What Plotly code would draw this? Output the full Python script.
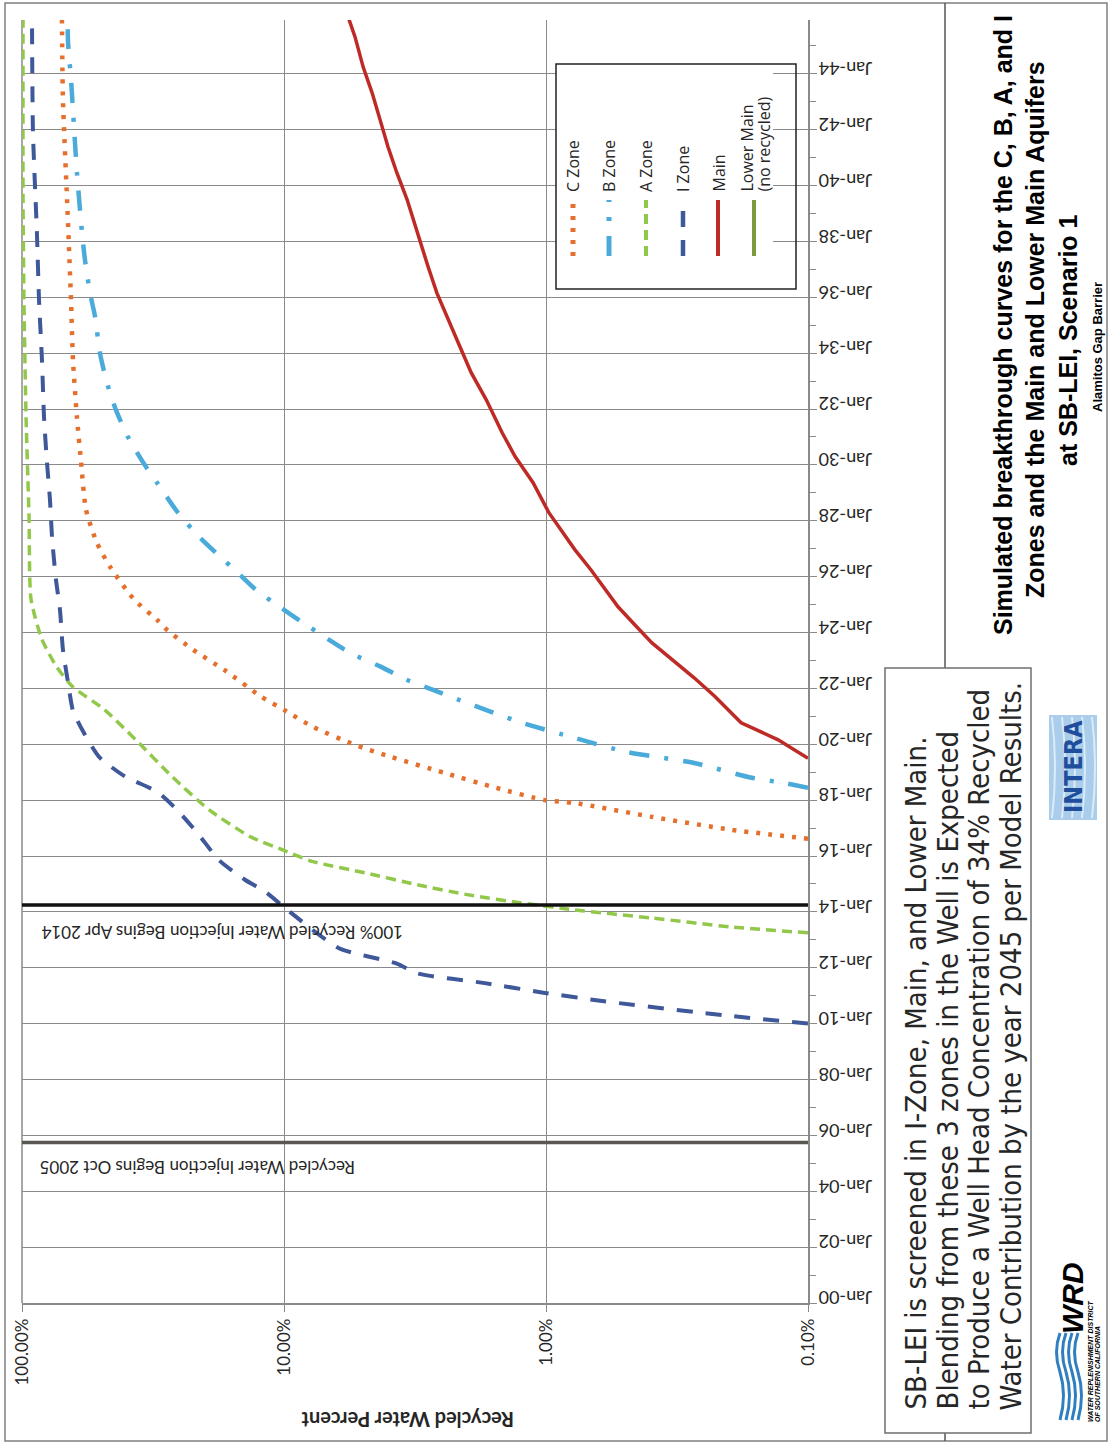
import plotly.graph_objects as go
import pandas as pd

W, H = 1109, 1443

# ---------------- data (decimal year, recycled water percent) ----------------
c_zone_year = [2016.62, 2016.94, 2017.4, 2017.9, 2018.0, 2018.44, 2018.98, 2019.55, 2019.98,
               2020.62, 2021.23, 2021.7, 2022.66, 2023.38, 2024.1, 2024.45, 2025.2, 2026.35,
               2027.2, 2028.4, 2030.1, 2031.7, 2033.75, 2035.9, 2039.5, 2043.1, 2045.95]
c_zone_pct = [0.10, 0.197, 0.394, 0.78, 1.01, 1.55, 2.45, 3.91, 5.36,
              7.75, 10.0, 12.2, 16.9, 22.2, 28.0, 30.5, 37.5, 46.1,
              51.7, 57.0, 59.5, 61.7, 63.9, 65.0, 67.3, 69.8, 70.4]

b_zone_year = [2018.44, 2018.62, 2018.8, 2019.33, 2019.73, 2020.23, 2020.77, 2021.16, 2021.59,
               2021.95, 2022.3, 2022.77, 2023.27, 2023.74, 2024.35, 2024.92, 2025.53, 2026.14,
               2026.71, 2027.43, 2028.29, 2029.36, 2030.0, 2031.0, 2031.97, 2032.94, 2034.0,
               2035.3, 2036.16, 2037.34, 2038.3, 2040.46, 2042.7, 2043.8, 2045.1, 2045.95]
b_zone_pct = [0.10, 0.1245, 0.164, 0.272, 0.495, 0.78, 1.24, 1.62, 2.15,
              2.70, 3.39, 4.26, 5.60, 6.73, 8.46, 10.4, 12.8, 15.0,
              17.5, 21.1, 25.4, 30.5, 34.0, 39.4, 43.8, 47.4, 50.4,
              52.6, 55.0, 57.5, 59.0, 61.7, 63.9, 65.0, 66.7, 67.0]

a_zone_year = [2013.25, 2013.46, 2013.78, 2014.07, 2014.32, 2014.6, 2014.97, 2015.4, 2015.8,
               2016.2, 2016.7, 2017.65, 2018.85, 2020.15, 2021.25, 2022.05, 2022.75, 2023.75,
               2025.2, 2028.15, 2031.7, 2035.9, 2039.5, 2045.95]
a_zone_pct = [0.10, 0.197, 0.394, 0.78, 1.24, 1.95, 3.10, 4.91, 7.75,
              10.0, 13.5, 19.3, 26.8, 36.7, 48.6, 63.9, 73.5, 83.9,
              92.4, 94.0, 96.5, 98.3, 99.1, 99.1]

i_zone_year = [2010.0, 2010.3, 2010.8, 2011.1, 2011.45, 2011.8, 2012.15, 2012.7, 2014.0,
               2014.7, 2015.15, 2015.85, 2016.8, 2017.65, 2018.3, 2018.85, 2019.55, 2020.4,
               2021.2, 2022.2, 2023.4, 2024.8, 2025.9, 2027.4, 2028.75, 2030.1, 2031.7,
               2033.75, 2035.9, 2038.3, 2041.9, 2045.95]
i_zone_pct = [0.10, 0.21, 0.60, 1.01, 1.71, 3.10, 3.71, 6.17, 9.5,
              11.7, 14.1, 17.7, 21.3, 25.6, 30.5, 40.5, 50.8, 58.0,
              63.9, 66.7, 69.8, 71.6, 74.2, 76.8, 78.2, 80.3, 82.4,
              83.9, 86.1, 87.7, 90.8, 91.6]

main_year = [2019.5, 2020.16, 2020.77, 2021.7, 2022.38, 2023.02, 2023.63, 2024.2, 2024.92,
             2026.24, 2026.96, 2028.29, 2029.36, 2030.29, 2031.15, 2032.33, 2033.3, 2034.23,
             2035.3, 2036.16, 2037.1, 2038.3, 2039.5, 2040.46, 2041.39, 2042.36, 2043.32,
             2044.25, 2045.33, 2045.95]
main_pct = [0.10, 0.130, 0.180, 0.226, 0.272, 0.327, 0.394, 0.450, 0.531,
            0.673, 0.775, 0.975, 1.12, 1.31, 1.47, 1.69, 1.93, 2.13,
            2.39, 2.61, 2.82, 3.10, 3.39, 3.71, 4.01, 4.30, 4.61,
            4.99, 5.36, 5.65]

lower_main_year = []   # no recycled water reaches the Lower Main
lower_main_pct = []

series_names = ["C Zone", "B Zone", "A Zone", "I Zone", "Main", "Lower Main\n(no recycled)"]

pct_tick_vals = [100, 10, 1, 0.1]
pct_tick_text = ["100.00%", "10.00%", "1.00%", "0.10%"]

event_dates = ["2005-10-01", "2014-04-01"]
event_labels = ["Recycled Water Injection Begins Oct 2005",
                "100% Recycled Water Injection Begins Apr 2014"]

time_start, time_end = "2000-01-01", "2045-12-05"

title_lines = ["Simulated breakthrough curves for the C, B, A, and I",
               "Zones and the Main and Lower Main Aquifers",
               "at SB-LEI, Scenario 1"]
subtitle = "Alamitos Gap Barrier"
note_lines = ["SB-LEI is screened in I-Zone, Main, and Lower Main.",
              "Blending from these 3 zones in the Well is Expected",
              "to Produce a Well Head Concentration of 34% Recycled",
              "Water Contribution by the year 2045 per Model Results."]

# ---------------- helpers ----------------
def X(p):
    return p / W

def Y(p):
    return 1 - p / H

def dec_to_date(v):
    yr = int(v)
    start = pd.Timestamp(yr, 1, 1)
    end = pd.Timestamp(yr + 1, 1, 1)
    return (start + (end - start) * (v - yr)).strftime("%Y-%m-%d %H:%M:%S")

GRID = "#8a8a8a"
TXT = "#262626"
CAL = "Lato, Carlito, sans-serif"

styles = [
    dict(color="#E5702D", width=4.5, dash="4px,8px"),
    dict(color="#4AABDB", width=4.5, dash="20px,15px,4px,15px"),
    dict(color="#92C84A", width=3.5, dash="10px,6px"),
    dict(color="#3E5899", width=4, dash="16px,13px"),
    dict(color="#BE2A25", width=3.5, dash="solid"),
    dict(color="#7A9A3C", width=3.5, dash="solid"),
]
data_sets = [(c_zone_year, c_zone_pct), (b_zone_year, b_zone_pct), (a_zone_year, a_zone_pct),
             (i_zone_year, i_zone_pct), (main_year, main_pct), (lower_main_year, lower_main_pct)]

fig = go.Figure()
for name, (yrs, pcts), st in zip(series_names, data_sets, styles):
    shape = "linear" if name == "Main" else "spline"
    fig.add_trace(go.Scatter(
        x=pcts, y=[dec_to_date(v) for v in yrs], mode="lines", name=name,
        line=dict(color=st["color"], width=st["width"], dash=st["dash"], shape=shape,
                  smoothing=0.6 if shape == "spline" else None),
        showlegend=False, hoverinfo="skip"))

fig.update_layout(
    width=W, height=H, margin=dict(l=0, r=0, t=0, b=0, pad=0),
    paper_bgcolor="white", plot_bgcolor="white", template="none",
    xaxis=dict(type="log", range=[2, -1], domain=[X(22), X(808)],
               tickvals=pct_tick_vals, ticktext=pct_tick_text, tickangle=-90,
               ticks="outside", ticklen=7, tickcolor=GRID, tickwidth=1.3,
               showgrid=True, gridcolor=GRID, gridwidth=1.3,
               showline=True, linecolor=GRID, linewidth=1.5, zeroline=False,
               tickfont=dict(family=CAL, size=17, color=TXT),
               automargin=False),
    yaxis=dict(type="date", range=[time_start, time_end], domain=[Y(1303), Y(20)],
               side="right", tick0="2000-01-01", dtick="M24", tickformat="%b-%y",
               tickangle=180, ticks="outside", ticklen=7, tickcolor=GRID, tickwidth=1.3,
               ticklabelstandoff=52,
               showgrid=True, gridcolor=GRID, gridwidth=1.3,
               showline=True, linecolor=GRID, linewidth=1.5, zeroline=False,
               minor=dict(dtick="M12", tick0="2001-01-01", ticks="outside", ticklen=6,
                          tickcolor=GRID, tickwidth=1.3, showgrid=False),
               tickfont=dict(family=CAL, size=18, color=TXT),
               automargin=False),
)

shapes = []
annotations = []

def ann(**kw):
    d = dict(showarrow=False, xanchor="center", yanchor="middle")
    d.update(kw)
    annotations.append(d)

# outer frame & panel separator
shapes.append(dict(type="rect", xref="paper", yref="paper", x0=X(5), x1=X(1107), y0=Y(1441), y1=Y(3),
                   line=dict(color="#7f7f7f", width=1.5), layer="below"))
shapes.append(dict(type="line", xref="paper", yref="paper", x0=X(945), x1=X(945), y0=Y(1441), y1=Y(3),
                   line=dict(color="#555555", width=1.5), layer="above"))
# 100% edge of the plot
shapes.append(dict(type="line", xref="paper", yref="paper", x0=X(22), x1=X(22), y0=Y(1303), y1=Y(20),
                   line=dict(color=GRID, width=1.5), layer="between"))

# event lines
event_colors = ["#5a5652", "#111111"]
event_label_x = [198, 222]
event_label_shift = [-25, -27]
for d, lab, col, lx, ys in zip(event_dates, event_labels, event_colors, event_label_x, event_label_shift):
    shapes.append(dict(type="line", xref="paper", yref="y", x0=X(22), x1=X(808), y0=d, y1=d,
                       line=dict(color=col, width=3.5), layer="above"))
    ann(xref="paper", yref="y", x=X(lx), y=d, yshift=ys, text=lab, textangle=180,
        font=dict(family=CAL, size=17, color=TXT))

# axis title (upside down)
ann(xref="paper", yref="paper", x=X(408), y=Y(1420), text="Recycled Water Percent", textangle=180,
    font=dict(family=CAL, size=20, color=TXT, weight="bold"))

# legend
shapes.append(dict(type="rect", xref="paper", yref="paper", x0=X(556), x1=X(773), y0=Y(289), y1=Y(64),
                   fillcolor="white", line=dict(width=0), layer="above"))
shapes.append(dict(type="rect", xref="paper", yref="paper", x0=X(556), x1=X(796), y0=Y(289), y1=Y(64),
                   line=dict(color="#222222", width=1.5), layer="above"))
leg_x = [573, 609, 646, 683, 718, 754]
for name, st, lx in zip(series_names, styles, leg_x):
    shapes.append(dict(type="line", xref="paper", yref="paper", x0=X(lx), x1=X(lx), y0=Y(256), y1=Y(200),
                       line=dict(color=st["color"], width=st["width"] + 0.5, dash=st["dash"]), layer="above"))
    parts = name.split("\n")
    offs = [0] if len(parts) == 1 else [-8, 9]
    for part, o in zip(parts, offs):
        ann(xref="paper", yref="paper", x=X(lx + o), y=Y(194), text=part, textangle=-90,
            yanchor="bottom", font=dict(family="Open Sans, sans-serif", size=16, color=TXT))

# right panel title
for txt, xx, yc in zip(title_lines, [1003, 1035, 1068], [325, 330, 340]):
    ann(xref="paper", yref="paper", x=X(xx), y=Y(yc), text=txt, textangle=-90,
        font=dict(family="Liberation Sans, Arial, sans-serif", size=25, color="black", weight="bold"))
ann(xref="paper", yref="paper", x=X(1097), y=Y(347), text=subtitle, textangle=-90,
    font=dict(family="Liberation Sans, Arial, sans-serif", size=13, color="black", weight="bold"))

# note box
shapes.append(dict(type="rect", xref="paper", yref="paper", x0=X(885), x1=X(1031), y0=Y(1433), y1=Y(668),
                   fillcolor="white", line=dict(color="#6f6f6f", width=1.5), layer="above"))
for txt, xx in zip(note_lines, [915, 947, 978, 1010]):
    ann(xref="paper", yref="paper", x=X(xx), y=Y(1412), text=txt, textangle=-90, yanchor="bottom",
        font=dict(family="Liberation Sans Narrow, DejaVu Sans Condensed, sans-serif", size=29, color=TXT))

# INTERA logo (approximation)
shapes.append(dict(type="rect", xref="paper", yref="paper", x0=X(1049), x1=X(1097), y0=Y(820), y1=Y(715),
                   fillcolor="#a9cdea", line=dict(width=0), layer="above"))
for k in range(5):
    xx = 1052 + k * 10
    shapes.append(dict(type="path", xref="paper", yref="paper",
                       path=f"M {X(xx)},{Y(818)} Q {X(xx + 6)},{Y(767)} {X(xx)},{Y(717)}",
                       line=dict(color="#dcebf7", width=2), layer="above"))
ann(xref="paper", yref="paper", x=X(1073), y=Y(767), text="<b>INTERA</b>", textangle=-90,
    font=dict(family="DejaVu Sans Condensed, sans-serif", size=25, color="#1f4f9c"))

# WRD logo (approximation)
for k in range(4):
    xx = 1060 + k * 6
    shapes.append(dict(type="path", xref="paper", yref="paper",
                       path=f"M {X(xx)},{Y(1420)} Q {X(xx + 7)},{Y(1395)} {X(xx)},{Y(1372)} "
                            f"Q {X(xx - 7)},{Y(1352)} {X(xx)},{Y(1333)}",
                       line=dict(color="#2f7fc0", width=3), layer="above"))
ann(xref="paper", yref="paper", x=X(1072), y=Y(1298), text="<b><i>WRD</i></b>", textangle=-90,
    font=dict(family="Liberation Sans, Arial, sans-serif", size=30, color="black"))
ann(xref="paper", yref="paper", x=X(1090), y=Y(1424), text="<b><i>WATER REPLENISHMENT DISTRICT</i></b>",
    textangle=-90, yanchor="bottom",
    font=dict(family="Liberation Sans Narrow, sans-serif", size=7, color="black"))
ann(xref="paper", yref="paper", x=X(1097), y=Y(1424), text="<b><i>OF SOUTHERN CALIFORNIA</i></b>",
    textangle=-90, yanchor="bottom",
    font=dict(family="Liberation Sans Narrow, sans-serif", size=7, color="black"))

fig.update_layout(shapes=shapes, annotations=annotations)

fig.write_html("out.html", config={"displayModeBar": False},
               post_script="document.body.style.margin='0px';")
